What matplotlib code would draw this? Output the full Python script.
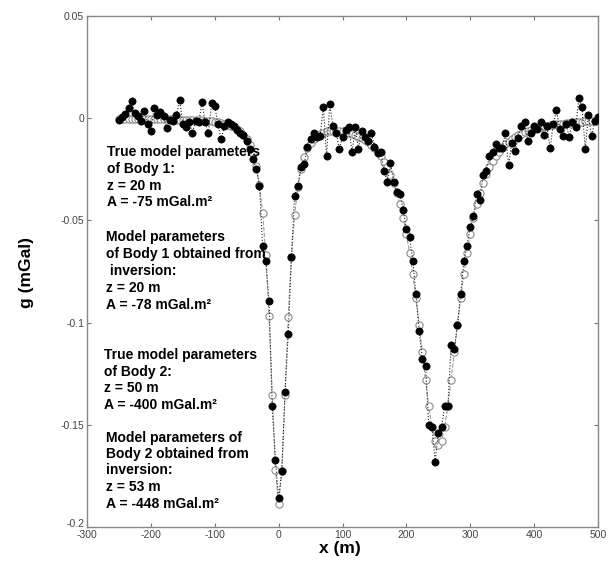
import numpy as np
import matplotlib
matplotlib.use("Agg")
import matplotlib.pyplot as plt
from matplotlib.transforms import ScaledTranslation

plt.rcParams['font.family'] = ['Liberation Sans', 'DejaVu Sans']

# Profile positions (m)
x_m = np.arange(-250, 505, 5)

# Theoretical anomaly (open circles)
g_model = [
    -0.0003, -0.0003, -0.0003, -0.0003, -0.0003, -0.0003, -0.0003, -0.0004, -0.0004, -0.0004,
    -0.0004, -0.0004, -0.0004, -0.0005, -0.0005, -0.0005, -0.0006, -0.0006, -0.0007, -0.0007,
    -0.0007, -0.0008, -0.0008, -0.0009, -0.0010, -0.0010, -0.0011, -0.0013, -0.0015, -0.0016,
    -0.0018, -0.0020, -0.0023, -0.0027, -0.0031, -0.0036, -0.0044, -0.0053, -0.0064, -0.0080,
    -0.0101, -0.0132, -0.0174, -0.0235, -0.0327, -0.0464, -0.0671, -0.0969, -0.1352, -0.1723,
    -0.1887,
    -0.1725, -0.1356, -0.0974, -0.0678, -0.0473, -0.0337, -0.0248, -0.0188, -0.0147, -0.0119,
    -0.0100, -0.0085, -0.0076, -0.0070, -0.0065, -0.0063, -0.0062, -0.0061, -0.0062, -0.0065,
    -0.0067, -0.0072, -0.0077, -0.0082, -0.0090, -0.0098, -0.0107, -0.0118, -0.0132, -0.0147,
    -0.0166, -0.0187, -0.0212, -0.0241, -0.0276, -0.0317, -0.0365, -0.0422, -0.0489, -0.0568,
    -0.0659, -0.0764, -0.0881, -0.1010, -0.1146, -0.1282, -0.1407, -0.1510, -0.1577, -0.1601,
    -0.1577, -0.1510, -0.1407, -0.1282, -0.1146, -0.1010, -0.0881, -0.0763, -0.0658, -0.0567,
    -0.0488, -0.0421, -0.0364, -0.0315, -0.0274, -0.0239, -0.0210, -0.0184, -0.0163, -0.0144,
    -0.0128, -0.0114, -0.0102, -0.0092, -0.0083, -0.0075, -0.0068, -0.0062, -0.0056, -0.0052,
    -0.0047, -0.0043, -0.0040, -0.0037, -0.0034, -0.0032, -0.0029, -0.0027, -0.0026, -0.0024,
    -0.0022, -0.0021, -0.0020, -0.0018, -0.0017, -0.0016, -0.0015, -0.0015, -0.0014, -0.0013,
]

g_obs = [
    -0.0010, 0.0005, 0.0020, 0.0050, 0.0083, 0.0024, 0.0010, -0.0015, 0.0034, -0.0030,
    -0.0063, 0.0050, 0.0015, 0.0030, 0.0010, -0.0050, -0.0010, -0.0015, 0.0015, 0.0090,
    -0.0030, -0.0044, -0.0020, -0.0070, -0.0015, -0.0020, 0.0078, -0.0020, -0.0070, 0.0073,
    0.0060, -0.0030, -0.0103, -0.0040, -0.0020, -0.0030, -0.0040, -0.0060, -0.0070, -0.0080,
    -0.0110, -0.0150, -0.0200, -0.0250, -0.0330, -0.0626, -0.0700, -0.0896, -0.1410, -0.1670,
    -0.1860,
    -0.1725, -0.1340, -0.1057, -0.0680, -0.0380, -0.0330, -0.0240, -0.0225, -0.0142, -0.0103,
    -0.0070, -0.0093, -0.0088, 0.0054, -0.0186, 0.0068, -0.0039, -0.0070, -0.0150, -0.0093,
    -0.0060, -0.0044, -0.0166, -0.0044, -0.0150, -0.0064, -0.0090, -0.0110, -0.0070, -0.0140,
    -0.0170, -0.0166, -0.0260, -0.0310, -0.0220, -0.0310, -0.0360, -0.0370, -0.0450, -0.0540,
    -0.0580, -0.0700, -0.0860, -0.1040, -0.1180, -0.1210, -0.1500, -0.1510, -0.1680, -0.1540,
    -0.1510, -0.1410, -0.1410, -0.1110, -0.1130, -0.1010, -0.0860, -0.0700, -0.0625, -0.0530,
    -0.0480, -0.0370, -0.0400, -0.0280, -0.0260, -0.0186, -0.0166, -0.0127, -0.0147, -0.0147,
    -0.0070, -0.0230, -0.0122, -0.0160, -0.0098, -0.0040, -0.0020, -0.0110, -0.0070, -0.0040,
    -0.0054, -0.0020, -0.0083, -0.0040, -0.0147, -0.0030, 0.0040, -0.0054, -0.0088, -0.0030,
    -0.0093, -0.0020, -0.0044, 0.0100, 0.0054, -0.0150, 0.0015, -0.0088, -0.0015, 0.0005,
]

x_ticks = [-300, -200, -100, 0, 100, 200, 300, 400, 500]
x_ticklabels = ['-300', '-200', '-100', '0', '100', '200', '300', '400', '500']
y_ticks = [0.05, 0, -0.05, -0.1, -0.15, -0.2]
y_ticklabels = ['0.05', '0', '-0.05', '-0.1', '-0.15', '-0.2']

annotations = [
    ["True model parameters", "of Body 1:", "z = 20 m", "A = -75 mGal.m\u00b2"],
    ["Model parameters", "of Body 1 obtained from", " inversion:", "z = 20 m", "A = -78 mGal.m\u00b2"],
    ["True model parameters", "of Body 2:", "z = 50 m", "A = -400 mGal.m\u00b2"],
    ["Model parameters of", "Body 2 obtained from", "inversion:", "z = 53 m", "A = -448 mGal.m\u00b2"],
]

W, H = 608, 562
fig = plt.figure(figsize=(W / 100, H / 100), dpi=100)
ax = fig.add_axes([87 / W, 35 / H, 511 / W, 511 / H])

ax.plot(x_m, g_model, linestyle='--', color='#9a9a9a', linewidth=0.8,
        marker='o', markersize=5.2, markerfacecolor='white',
        markeredgecolor='#8a8a8a', markeredgewidth=0.8, zorder=2)
ax.plot(x_m, g_obs, linestyle=':', color='#222222', linewidth=0.8,
        marker='o', markersize=5.2, markerfacecolor='black',
        markeredgecolor='black', markeredgewidth=0.5, zorder=3)

ax.set_xlim(-300, 500)
ax.set_ylim(-0.2, 0.05)
ax.set_xticks(x_ticks)
ax.set_xticklabels(x_ticklabels)
ax.set_yticks(y_ticks)
ax.set_yticklabels(y_ticklabels)
ax.tick_params(direction='in', length=3, width=0.8, colors='#777777',
               labelcolor='#444444', labelsize=7.5, top=True, right=True, pad=2)
for s in ax.spines.values():
    s.set_color('#888888')
    s.set_linewidth(1.0)

# nudge the lowest y label up slightly so it sits above "-300"
lab = ax.get_yticklabels()[-1]
lab.set_transform(lab.get_transform() + ScaledTranslation(0, 4 / 100, fig.dpi_scale_trans))

fig.text(340 / W, 1 - 548 / H, 'x (m)', fontsize=12.5, fontweight='bold',
         ha='center', va='center')
fig.text(26 / W, 1 - 272 / H, 'g (mGal)', fontsize=12.5, fontweight='bold',
         ha='center', va='center', rotation=90)

block_pos = [
    (107, [152, 169, 186, 202]),
    (106, [237, 254, 271, 288, 305]),
    (104, [355, 372, 388, 405]),
    (106, [438, 454, 470, 487, 504]),
]
for lines, (x0, ys) in zip(annotations, block_pos):
    for line, yy in zip(lines, ys):
        fig.text(x0 / W, 1 - yy / H, line, fontsize=10, fontweight='bold',
                 ha='left', va='center', color='black', zorder=5)

fig.savefig('out.png', dpi=100)
